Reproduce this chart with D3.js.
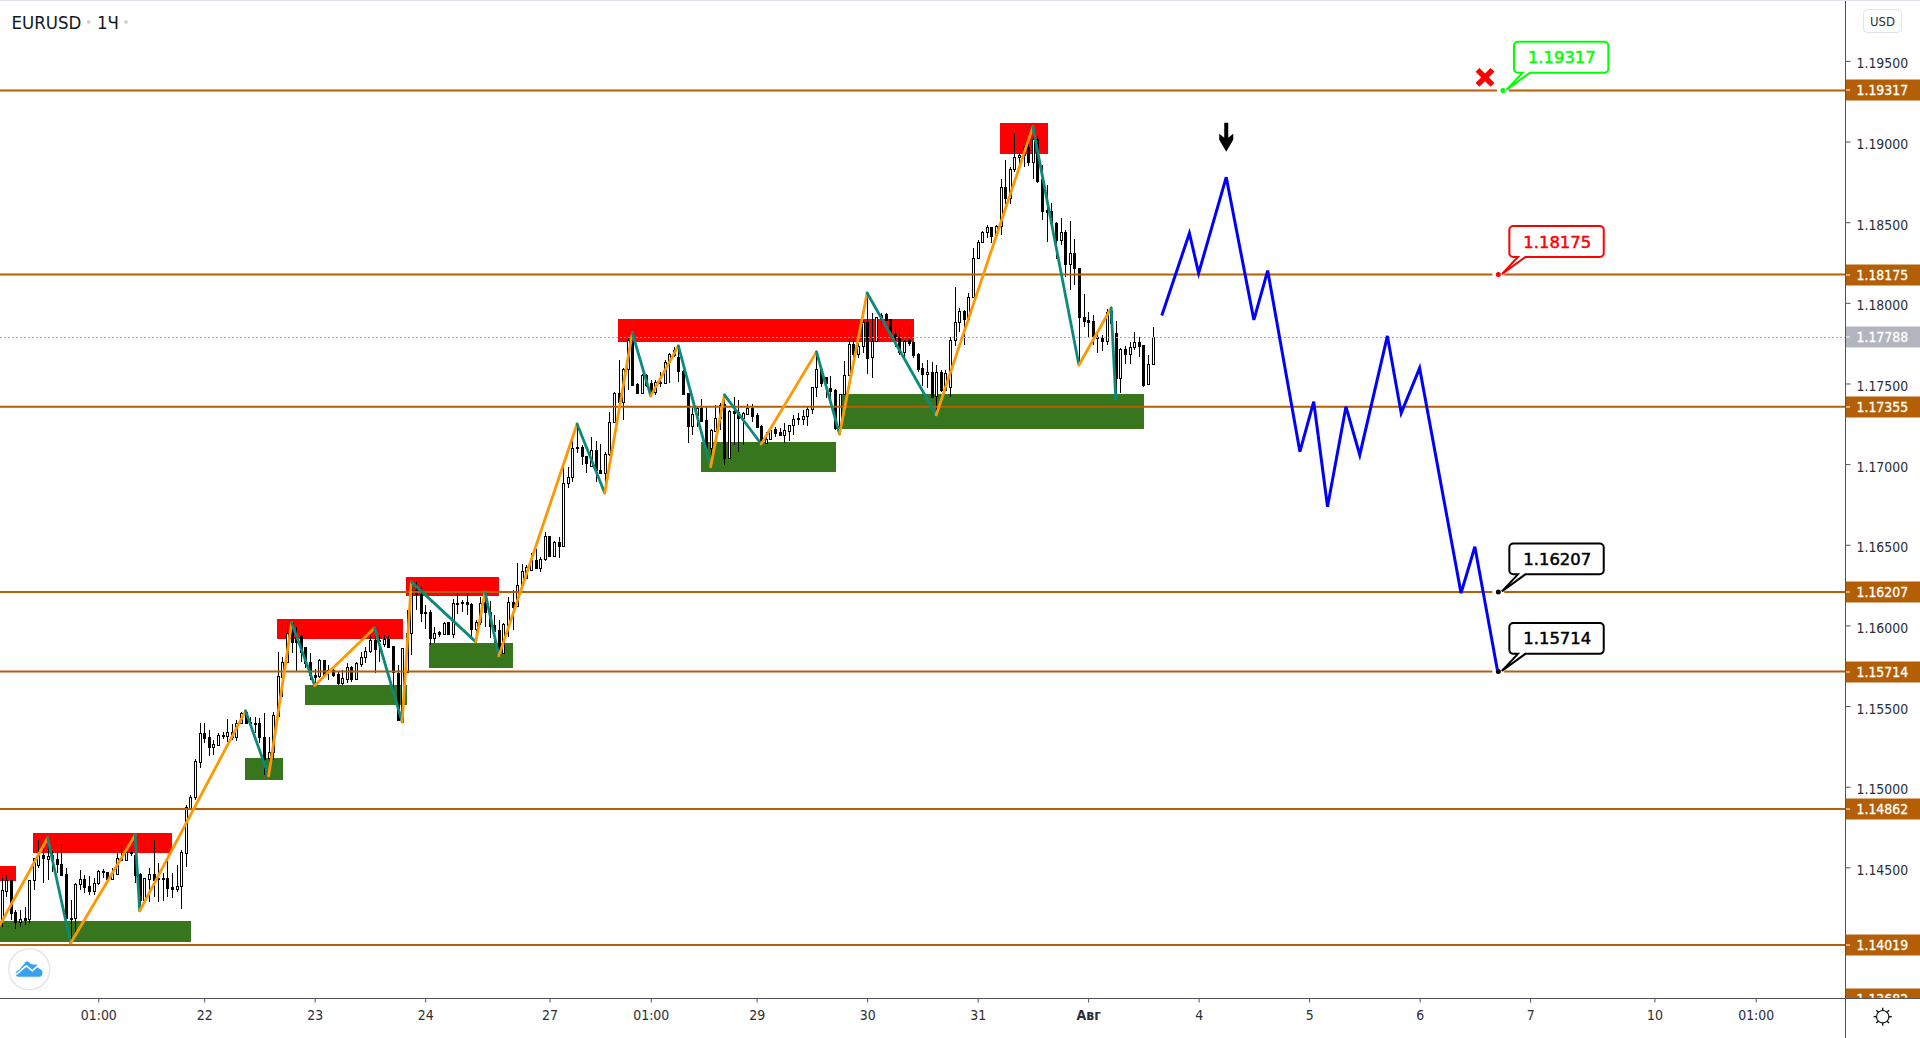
<!DOCTYPE html>
<html>
<head>
<meta charset="utf-8">
<title>EURUSD</title>
<script src="https://cdn.jsdelivr.net/npm/d3@7"></script>
<style>
  html, body { margin: 0; background: #fff; overflow: hidden; }
  text { font-family: "DejaVu Sans Condensed", "DejaVu Sans", sans-serif; font-stretch: condensed; }
</style>
</head>
<body>
<div id="chart"></div>
<script>
// candles, one entry per hourly bar
const barOpen = [
  1.14174,1.14354,1.14422,1.14224,1.14162,1.14186,1.14180,1.14422,1.14515,1.14577,
  1.14552,1.14577,1.14552,1.14521,1.14459,1.14186,1.14186,1.14397,1.14428,1.14385,
  1.14354,1.14403,1.14478,1.14472,1.14428,1.14459,1.14558,1.14546,1.14596,1.14577,
  1.14459,1.14298,1.14428,1.14459,1.14434,1.14434,1.14434,1.14379,1.14366,1.14385,
  1.14589,1.14868,1.14937,1.15154,1.15333,1.15308,1.15247,1.15259,1.15321,1.15315,
  1.15339,1.15308,1.15395,1.15464,1.15401,1.15395,1.15395,1.15308,1.15178,1.15216,
  1.15439,1.15681,1.15774,1.16015,1.15929,1.15935,1.15867,1.15774,1.15693,1.15687,
  1.15786,1.15724,1.15724,1.15699,1.15643,1.15668,1.15743,1.15668,1.15761,1.15805,
  1.15842,1.15910,1.15910,1.15885,1.15916,1.15873,1.15705,1.15401,1.15712,1.15953,
  1.16220,1.16195,1.16084,1.16084,1.15922,1.15960,1.15947,1.16021,1.15947,1.16139,
  1.16146,1.16146,1.16133,1.15978,1.16021,1.16146,1.16084,1.16003,1.15972,1.15829,
  1.16003,1.16146,1.16121,1.16251,1.16294,1.16344,1.16406,1.16356,1.16412,1.16555,
  1.16431,1.16518,1.16493,1.16883,1.16921,1.17106,1.17106,1.17051,1.16989,1.17088,
  1.16964,1.16945,1.17063,1.17262,1.17441,1.17386,1.17590,1.17813,1.17497,1.17441,
  1.17553,1.17503,1.17448,1.17510,1.17503,1.17634,1.17677,1.17665,1.17578,1.17441,
  1.17237,1.17305,1.17348,1.17274,1.17100,1.17206,1.17286,1.17373,1.17038,1.17330,
  1.17324,1.17286,1.17311,1.17348,1.17305,1.17237,1.17131,1.17156,1.17218,1.17200,
  1.17181,1.17206,1.17243,1.17286,1.17280,1.17299,1.17342,1.17479,1.17590,1.17541,
  1.17472,1.17460,1.17224,1.17435,1.17553,1.17745,1.17683,1.17733,1.17882,1.17665,
  1.17764,1.17925,1.17931,1.17900,1.17807,1.17789,1.17696,1.17770,1.17758,1.17683,
  1.17596,1.17559,1.17572,1.17423,1.17572,1.17460,1.17479,1.17770,1.17882,1.17950,
  1.17900,1.18037,1.18278,1.18378,1.18440,1.18471,1.18421,1.18477,1.18719,1.18650,
  1.18830,1.18905,1.18917,1.18967,1.18874,1.19016,1.18768,1.18576,1.18570,1.18495,
  1.18390,1.18440,1.18241,1.18309,1.18216,1.17913,1.17894,1.17888,1.17789,1.17782,
  1.17764,1.17950,1.17813,1.17534,1.17714,1.17683,1.17727,1.17758,1.17739,1.17497,
  1.17621
];
const barHigh = [
  1.14434,1.14453,1.14422,1.14236,1.14236,1.14255,1.14422,1.14558,1.14670,1.14651,
  1.14682,1.14602,1.14608,1.14645,1.14496,1.14298,1.14403,1.14484,1.14453,1.14447,
  1.14434,1.14484,1.14490,1.14472,1.14496,1.14589,1.14639,1.14627,1.14627,1.14689,
  1.14465,1.14434,1.14496,1.14670,1.14527,1.14465,1.14546,1.14465,1.14515,1.14608,
  1.14887,1.14949,1.15172,1.15395,1.15395,1.15352,1.15290,1.15333,1.15339,1.15420,
  1.15389,1.15414,1.15464,1.15470,1.15433,1.15433,1.15426,1.15457,1.15308,1.15464,
  1.15836,1.15805,1.16015,1.16015,1.15991,1.15941,1.15867,1.15829,1.15730,1.15792,
  1.15786,1.15755,1.15736,1.15718,1.15724,1.15767,1.15749,1.15774,1.15836,1.15867,
  1.15941,1.15984,1.15941,1.15941,1.15941,1.15873,1.15755,1.15860,1.16096,1.16270,
  1.16270,1.16245,1.16127,1.16096,1.15991,1.15966,1.16021,1.16021,1.16164,1.16208,
  1.16158,1.16208,1.16139,1.16034,1.16177,1.16208,1.16152,1.16065,1.16034,1.16015,
  1.16177,1.16220,1.16387,1.16381,1.16375,1.16449,1.16474,1.16425,1.16580,1.16555,
  1.16524,1.16549,1.16983,1.16983,1.17150,1.17255,1.17119,1.17051,1.17169,1.17144,
  1.17125,1.17076,1.17324,1.17448,1.17646,1.17596,1.17789,1.17813,1.17503,1.17559,
  1.17559,1.17522,1.17522,1.17572,1.17646,1.17689,1.17727,1.17727,1.17584,1.17441,
  1.17348,1.17355,1.17404,1.17355,1.17218,1.17367,1.17379,1.17429,1.17336,1.17417,
  1.17398,1.17324,1.17373,1.17373,1.17317,1.17243,1.17200,1.17224,1.17231,1.17224,
  1.17255,1.17243,1.17305,1.17317,1.17336,1.17361,1.17479,1.17696,1.17596,1.17541,
  1.17547,1.17466,1.17435,1.17640,1.17782,1.17782,1.17751,1.17894,1.18061,1.17937,
  1.17913,1.17937,1.17937,1.17900,1.17851,1.17844,1.17770,1.17851,1.17758,1.17689,
  1.17627,1.17646,1.17634,1.17615,1.17584,1.17584,1.17789,1.18099,1.17968,1.17956,
  1.18061,1.18340,1.18390,1.18446,1.18483,1.18471,1.18483,1.18768,1.18886,1.18843,
  1.19047,1.18929,1.18973,1.18991,1.19084,1.19035,1.18855,1.18731,1.18619,1.18502,
  1.18526,1.18452,1.18508,1.18396,1.18216,1.18055,1.17944,1.17925,1.17813,1.17801,
  1.17962,1.17962,1.17888,1.17720,1.17733,1.17758,1.17820,1.17789,1.17739,1.17677,
  1.17851
];
const barLow = [
  1.14131,1.14317,1.14174,1.14118,1.14131,1.14143,1.14155,1.14360,1.14496,1.14403,
  1.14422,1.14472,1.14465,1.14447,1.14180,1.14019,1.14093,1.14360,1.14341,1.14329,
  1.14329,1.14391,1.14434,1.14428,1.14428,1.14453,1.14546,1.14546,1.14571,1.14403,
  1.14236,1.14286,1.14286,1.14317,1.14286,1.14292,1.14317,1.14310,1.14348,1.14242,
  1.14502,1.14868,1.14918,1.15116,1.15271,1.15191,1.15197,1.15259,1.15296,1.15278,
  1.15290,1.15284,1.15395,1.15389,1.15383,1.15333,1.15271,1.15073,1.15067,1.15166,
  1.15439,1.15557,1.15774,1.15829,1.15718,1.15774,1.15736,1.15662,1.15619,1.15674,
  1.15687,1.15662,1.15681,1.15631,1.15631,1.15643,1.15650,1.15668,1.15743,1.15767,
  1.15829,1.15705,1.15774,1.15867,1.15860,1.15557,1.15414,1.15395,1.15712,1.15817,
  1.16096,1.16021,1.15978,1.15879,1.15891,1.15929,1.15941,1.15941,1.15922,1.16071,
  1.16084,1.16065,1.15922,1.15929,1.16003,1.15991,1.15922,1.15891,1.15817,1.15829,
  1.15929,1.15972,1.16115,1.16239,1.16288,1.16338,1.16356,1.16332,1.16400,1.16425,
  1.16425,1.16418,1.16493,1.16852,1.16889,1.17069,1.16995,1.16945,1.16983,1.16889,
  1.16945,1.16821,1.17051,1.17255,1.17355,1.17274,1.17460,1.17485,1.17435,1.17441,
  1.17479,1.17417,1.17429,1.17479,1.17497,1.17503,1.17665,1.17510,1.17429,1.17131,
  1.17181,1.17231,1.17262,1.17100,1.16983,1.17206,1.17212,1.16995,1.17038,1.17119,
  1.17076,1.17119,1.17305,1.17262,1.17231,1.17119,1.17125,1.17156,1.17169,1.17175,
  1.17131,1.17144,1.17181,1.17243,1.17243,1.17237,1.17311,1.17417,1.17479,1.17410,
  1.17398,1.17212,1.17181,1.17429,1.17553,1.17658,1.17658,1.17689,1.17559,1.17534,
  1.17758,1.17844,1.17888,1.17801,1.17727,1.17677,1.17665,1.17733,1.17658,1.17572,
  1.17485,1.17472,1.17417,1.17299,1.17448,1.17454,1.17417,1.17733,1.17820,1.17739,
  1.17894,1.18030,1.18272,1.18371,1.18402,1.18371,1.18421,1.18421,1.18613,1.18613,
  1.18812,1.18843,1.18843,1.18849,1.18768,1.18743,1.18514,1.18378,1.18483,1.18272,
  1.18359,1.18161,1.18080,1.18111,1.17615,1.17851,1.17782,1.17739,1.17689,1.17702,
  1.17739,1.17807,1.17404,1.17441,1.17621,1.17621,1.17708,1.17665,1.17479,1.17491,
  1.17615
];
const barClose = [
  1.14360,1.14422,1.14217,1.14162,1.14180,1.14174,1.14422,1.14558,1.14577,1.14558,
  1.14571,1.14546,1.14521,1.14453,1.14186,1.14180,1.14397,1.14428,1.14379,1.14354,
  1.14403,1.14478,1.14472,1.14428,1.14465,1.14558,1.14546,1.14596,1.14589,1.14453,
  1.14298,1.14434,1.14459,1.14422,1.14428,1.14428,1.14372,1.14366,1.14385,1.14596,
  1.14875,1.14937,1.15160,1.15333,1.15302,1.15247,1.15265,1.15321,1.15315,1.15339,
  1.15308,1.15395,1.15457,1.15395,1.15395,1.15389,1.15308,1.15172,1.15216,1.15445,
  1.15687,1.15774,1.15953,1.15898,1.15898,1.15836,1.15767,1.15693,1.15681,1.15786,
  1.15693,1.15718,1.15693,1.15643,1.15674,1.15743,1.15668,1.15767,1.15805,1.15842,
  1.15910,1.15854,1.15904,1.15916,1.15867,1.15712,1.15414,1.15860,1.15953,1.16264,
  1.16195,1.16077,1.16077,1.15922,1.15953,1.15947,1.16015,1.15947,1.16139,1.16133,
  1.16139,1.16133,1.15978,1.16021,1.16139,1.16084,1.15997,1.15966,1.15817,1.16009,
  1.16146,1.16115,1.16251,1.16338,1.16363,1.16406,1.16356,1.16412,1.16555,1.16431,
  1.16518,1.16493,1.16883,1.16921,1.17100,1.17100,1.17051,1.17007,1.17088,1.16964,
  1.16945,1.17063,1.17262,1.17441,1.17386,1.17590,1.17770,1.17491,1.17441,1.17553,
  1.17491,1.17441,1.17510,1.17503,1.17634,1.17683,1.17708,1.17578,1.17435,1.17237,
  1.17311,1.17348,1.17268,1.17100,1.17212,1.17286,1.17367,1.17038,1.17330,1.17317,
  1.17286,1.17317,1.17348,1.17299,1.17231,1.17125,1.17156,1.17212,1.17193,1.17181,
  1.17212,1.17243,1.17280,1.17280,1.17299,1.17342,1.17479,1.17590,1.17503,1.17503,
  1.17454,1.17224,1.17435,1.17553,1.17745,1.17683,1.17733,1.17882,1.17658,1.17764,
  1.17913,1.17900,1.17894,1.17807,1.17789,1.17696,1.17764,1.17751,1.17677,1.17590,
  1.17559,1.17572,1.17417,1.17572,1.17460,1.17565,1.17770,1.17882,1.17950,1.17900,
  1.18037,1.18278,1.18378,1.18440,1.18471,1.18415,1.18477,1.18719,1.18650,1.18830,
  1.18905,1.18917,1.18967,1.18874,1.19016,1.18756,1.18570,1.18564,1.18495,1.18390,
  1.18440,1.18241,1.18309,1.18216,1.17913,1.17888,1.17882,1.17789,1.17782,1.17764,
  1.17944,1.17875,1.17534,1.17714,1.17683,1.17727,1.17758,1.17733,1.17491,1.17621,
  1.17788
];

// zigzag pivots drawn over the candles
const zigzagBars = [-0.35, 10, 15, 29, 30, 53, 58, 63, 68, 81, 87, 89, 103, 105, 108, 125, 131, 137, 141, 147, 154, 157, 165, 177, 182, 188, 203, 224, 234, 241, 242];
const zigzagPrices = [1.14143, 1.14682, 1.14031, 1.14701, 1.14230, 1.15470, 1.15067, 1.16015, 1.15627, 1.15984, 1.15402, 1.16270, 1.15898, 1.16208, 1.15811, 1.17249, 1.16821, 1.17813, 1.17423, 1.17733, 1.16983, 1.17429, 1.17125, 1.17696, 1.17187, 1.18061, 1.17305, 1.19091, 1.17615, 1.17968, 1.17404];

// forecast path
const forecastBars = [252, 258, 260, 266, 272, 275, 282, 285, 288, 292, 295, 301, 304, 308, 317, 320, 325];
const forecastPrices = [1.17921, 1.18432, 1.18184, 1.18779, 1.17894, 1.18200, 1.17077, 1.17387, 1.16736, 1.17356, 1.17057, 1.17795, 1.17316, 1.17595, 1.16200, 1.16488, 1.15707];

// supply and demand zones: start bar, end bar, top, bottom
const supplyZones = [
  [-1, 3.13, 1.14509, 1.14416],
  [6.82, 37, 1.14713, 1.14589],
  [59.8, 87.2, 1.16040, 1.15916],
  [87.83, 108, 1.16301, 1.16183],
  [133.9, 198.2, 1.17900, 1.17758],
  [216.9, 227.3, 1.19115, 1.18923]
];
const demandZones = [
  [-1, 41.14, 1.14168, 1.14038],
  [52.87, 61.1, 1.15178, 1.15042],
  [65.9, 88.05, 1.15631, 1.15507],
  [92.83, 111.1, 1.15892, 1.15736],
  [151.9, 181.2, 1.17138, 1.16952],
  [182.3, 248.1, 1.17435, 1.17218]
];

const levels = [1.19317, 1.18175, 1.17355, 1.16207, 1.15714, 1.14862, 1.14019, 1.13682];
const lastPrice = 1.17788;
const priceTicks = [1.195, 1.19, 1.185, 1.18, 1.175, 1.17, 1.165, 1.16, 1.155, 1.15, 1.145];

const timeTickBars = [21, 44, 68, 92, 119, 141, 164, 188, 212, 236, 260, 284, 308, 332, 359, 381];
const timeTickLabels = ["01:00", "22", "23", "24", "27", "01:00", "29", "30", "31", "Авг", "4", "5", "6", "7", "10", "01:00"];

const calloutBars = [326.1, 325.1, 325.1, 325.1];
const calloutPrices = [1.19317, 1.18175, 1.16207, 1.15714];
const calloutColors = ["#00ff00", "#ff0000", "#000000", "#000000"];

const page = { width: 1920, height: 1038 };
const pane = { top: 2, right: 1845, bottom: 998 };
const axisFontSize = 13.9;

const xScale = d3.scaleLinear().domain([0, 381]).range([1.6, 1755.7]);
const yScale = d3.scaleLinear().domain([1.13690, 1.19859]).range([998, 3]);

const svg = d3.select("#chart")
  .append("svg")
  .attr("width", page.width)
  .attr("height", page.height)
  .style("display", "block");

svg.append("defs").append("clipPath")
  .attr("id", "pane-clip")
  .append("rect")
  .attr("width", pane.right)
  .attr("y", pane.top)
  .attr("height", pane.bottom - pane.top);

svg.select("defs").append("clipPath")
  .attr("id", "scale-clip")
  .append("rect")
  .attr("x", pane.right)
  .attr("y", pane.top)
  .attr("width", page.width - pane.right)
  .attr("height", pane.bottom - pane.top);

svg.append("rect")
  .attr("width", page.width)
  .attr("height", 1)
  .attr("fill", "#e0e3eb");

const plot = svg.append("g").attr("clip-path", "url(#pane-clip)");

// zones sit under everything
function drawZones(zones, color) {
  plot.append("g")
    .attr("shape-rendering", "crispEdges")
    .selectAll("rect")
    .data(zones)
    .join("rect")
    .attr("x", d => xScale(d[0]))
    .attr("width", d => xScale(d[1]) - xScale(d[0]))
    .attr("y", d => yScale(d[2]))
    .attr("height", d => yScale(d[3]) - yScale(d[2]))
    .attr("fill", color);
}
drawZones(supplyZones, "#ff0000");
drawZones(demandZones, "#38761d");

// candles
const candles = d3.range(barOpen.length);
const candleLayer = plot.append("g").attr("shape-rendering", "crispEdges");

candleLayer.selectAll("line")
  .data(candles)
  .join("line")
  .attr("x1", i => Math.round(xScale(i)) + 0.5)
  .attr("x2", i => Math.round(xScale(i)) + 0.5)
  .attr("y1", i => Math.round(yScale(barHigh[i])))
  .attr("y2", i => Math.round(yScale(barLow[i])))
  .attr("stroke", "#000");

candleLayer.selectAll("rect")
  .data(candles)
  .join("rect")
  .attr("x", i => Math.round(xScale(i)) - 0.5)
  .attr("width", 2)
  .attr("y", i => Math.round(yScale(Math.max(barOpen[i], barClose[i]))) + 0.5)
  .attr("height", i => Math.max(1, Math.round(yScale(Math.min(barOpen[i], barClose[i]))) - Math.round(yScale(Math.max(barOpen[i], barClose[i])))))
  .attr("fill", i => barClose[i] >= barOpen[i] ? "#fff" : "#000")
  .attr("stroke", "#000");

// horizontal levels
plot.append("g")
  .selectAll("line")
  .data(levels)
  .join("line")
  .attr("x1", 0)
  .attr("x2", pane.right)
  .attr("y1", d => yScale(d))
  .attr("y2", d => yScale(d))
  .attr("stroke", "#b45f06")
  .attr("stroke-width", 2);

plot.append("line")
  .attr("x1", 0)
  .attr("x2", pane.right)
  .attr("y1", Math.round(yScale(lastPrice)) + 0.5)
  .attr("y2", Math.round(yScale(lastPrice)) + 0.5)
  .attr("stroke", "#a9abb2")
  .attr("stroke-dasharray", "2 2");

// zigzag legs, orange going up and teal going down
const zigzagLegs = d3.range(zigzagBars.length - 1);
plot.append("g")
  .selectAll("line")
  .data(zigzagLegs)
  .join("line")
  .attr("x1", i => xScale(zigzagBars[i]))
  .attr("y1", i => yScale(zigzagPrices[i]))
  .attr("x2", i => xScale(zigzagBars[i + 1]))
  .attr("y2", i => yScale(zigzagPrices[i + 1]))
  .attr("stroke", i => zigzagPrices[i + 1] > zigzagPrices[i] ? "#ff9800" : "#0b8a7c")
  .attr("stroke-width", 2.8)
  .attr("stroke-linecap", "round");

// down arrow above the forecast peak
plot.append("path")
  .attr("transform", `translate(${xScale(266)},${yScale(1.18779) - 25.5})`)
  .attr("d", "M-2,-29 L2,-29 L2,-14 L7,-18 L7,-12 L0,0 L-7,-12 L-7,-18 L-2,-14 Z")
  .attr("fill", "#000");

// red cross next to the invalidation level
plot.append("g")
  .attr("transform", `translate(${xScale(322.2)},${yScale(1.19317) - 13})`)
  .selectAll("line")
  .data([[-7.5, -7.5, 7.5, 7.5], [-7.5, 7.5, 7.5, -7.5]])
  .join("line")
  .attr("x1", d => d[0])
  .attr("y1", d => d[1])
  .attr("x2", d => d[2])
  .attr("y2", d => d[3])
  .attr("stroke", "#ff0000")
  .attr("stroke-width", 5.5);

// callouts
const callout = plot.append("g")
  .selectAll("g")
  .data(d3.range(calloutBars.length))
  .join("g")
  .attr("transform", i => `translate(${xScale(calloutBars[i])},${yScale(calloutPrices[i])})`);

callout.append("circle")
  .attr("r", 6)
  .attr("fill", "#fff");

callout.append("path")
  .attr("d", "M15,-48.6 H101.4 a4,4 0 0 1 4,4 V-21.7 a4,4 0 0 1 -4,4 H27 L3.5,-0.5 L19.6,-17.7 H15 a4,4 0 0 1 -4,-4 V-44.6 a4,4 0 0 1 4,-4 Z")
  .attr("fill", "#fff")
  .attr("stroke", i => calloutColors[i])
  .attr("stroke-width", 2);

// forecast runs down to the last callout, so it goes after the callout halos
plot.append("path")
  .datum(d3.range(forecastBars.length))
  .attr("d", d3.line().x(i => xScale(forecastBars[i])).y(i => yScale(forecastPrices[i])))
  .attr("fill", "none")
  .attr("stroke", "#0000ff")
  .attr("stroke-width", 3)
  .attr("stroke-linejoin", "miter");

const calloutTop = plot.append("g")
  .selectAll("g")
  .data(d3.range(calloutBars.length))
  .join("g")
  .attr("transform", i => `translate(${xScale(calloutBars[i])},${yScale(calloutPrices[i])})`);

calloutTop.append("circle")
  .attr("r", 2.5)
  .attr("fill", i => calloutColors[i]);

calloutTop.append("text")
  .attr("x", 58.9)
  .attr("y", -33)
  .attr("dy", "0.36em")
  .attr("text-anchor", "middle")
  .style("font-family", '"DejaVu Sans", sans-serif')
  .style("font-stretch", "normal")
  .attr("font-size", 16.4)
  .attr("fill", i => calloutColors[i])
  .attr("stroke", i => calloutColors[i])
  .attr("stroke-width", 0.5)
  .text(i => calloutPrices[i].toFixed(5));

// logo
const logo = svg.append("g").attr("transform", "translate(29.3,969.3)");
logo.append("circle")
  .attr("r", 20.5)
  .attr("fill", "#fff")
  .attr("stroke", "#e6e6e6")
  .attr("stroke-width", 1.5);
logo.append("path")
  .attr("d", "M-11,7.5 C-14.5,7.5 -14.5,1.5 -10,0.5 L-3.5,-7.5 C-1.5,-8.5 0,-7.5 1,-5.5 L5,-4.5 C8,-6 9,-3 10,-2 C14,-1 14.5,7.5 10,7.5 Z")
  .attr("fill", "#39a2ee");
logo.append("path")
  .attr("d", "M-13,5 L-3,-3.5 L3,1.5 L8,-3 L14,1")
  .attr("fill", "none")
  .attr("stroke", "#fff")
  .attr("stroke-width", 1.6);

// title
svg.append("text")
  .attr("x", 11.5)
  .attr("y", 29)
  .attr("font-size", 18.5)
  .attr("fill", "#131722")
  .text("EURUSD");
svg.append("text")
  .attr("x", 97)
  .attr("y", 29)
  .attr("font-size", 18.5)
  .attr("fill", "#131722")
  .text("1Ч");
svg.selectAll(".title-dot")
  .data([88.7, 126])
  .join("circle")
  .attr("class", "title-dot")
  .attr("cx", d => d)
  .attr("cy", 22)
  .attr("r", 1.8)
  .attr("fill", "#c8cad4");

// price scale
const yAxis = d3.axisRight(yScale)
  .tickValues(priceTicks)
  .tickFormat(d3.format(".5f"))
  .tickSize(5)
  .tickPadding(6);

const yAxisGroup = svg.append("g")
  .attr("transform", `translate(${pane.right + 0.5},0)`)
  .call(yAxis);
yAxisGroup.select(".domain").remove();
yAxisGroup.selectAll("line").attr("stroke", "#50535e");
yAxisGroup.selectAll("text")
  .attr("dy", "0.5em")
  .attr("font-size", axisFontSize)
  .attr("font-family", null)
  .attr("fill", "#2a2e39");

const scaleLabels = svg.append("g").attr("clip-path", "url(#scale-clip)");

const levelLabel = scaleLabels.selectAll("g")
  .data(levels.concat([lastPrice]))
  .join("g")
  .attr("transform", d => `translate(${pane.right},${Math.round(yScale(d))})`);

levelLabel.append("rect")
  .attr("y", -10.5)
  .attr("width", page.width - pane.right)
  .attr("height", 21)
  .attr("fill", d => d === lastPrice ? "#b2b5be" : "#b45f06");

levelLabel.append("line")
  .attr("x2", 5)
  .attr("stroke", "#fff");

levelLabel.append("text")
  .attr("x", 11.5)
  .attr("dy", "0.36em")
  .attr("font-size", axisFontSize)
  .attr("fill", "#fff")
  .attr("stroke", "#fff")
  .attr("stroke-width", 0.3)
  .text(d => d.toFixed(5));

svg.append("line")
  .attr("x1", pane.right + 0.5)
  .attr("x2", pane.right + 0.5)
  .attr("y1", 1)
  .attr("y2", page.height)
  .attr("stroke", "#50535e");

// USD button
svg.append("rect")
  .attr("x", 1863.5)
  .attr("y", 9.5)
  .attr("width", 38)
  .attr("height", 23)
  .attr("rx", 4)
  .attr("fill", "#fff")
  .attr("stroke", "#e0e3eb");
svg.append("text")
  .attr("x", 1882.5)
  .attr("y", 21)
  .attr("dy", "0.36em")
  .attr("text-anchor", "middle")
  .attr("font-size", 13)
  .attr("fill", "#2a2e39")
  .text("USD");

// time scale
const xAxis = d3.axisBottom(xScale)
  .tickValues(timeTickBars)
  .tickFormat((d, i) => timeTickLabels[i])
  .tickSize(4)
  .tickPadding(8);

const xAxisGroup = svg.append("g")
  .attr("transform", `translate(0,${pane.bottom + 0.5})`)
  .call(xAxis);
xAxisGroup.select(".domain").remove();
xAxisGroup.selectAll("line").attr("stroke", "#50535e");
xAxisGroup.selectAll("text")
  .attr("font-size", axisFontSize)
  .attr("font-family", null)
  .attr("fill", "#2a2e39");
xAxisGroup.selectAll("text")
  .filter((d, i) => timeTickLabels[i] === "Авг")
  .attr("font-weight", "bold");

svg.append("line")
  .attr("x1", 0)
  .attr("x2", page.width)
  .attr("y1", pane.bottom + 0.5)
  .attr("y2", pane.bottom + 0.5)
  .attr("stroke", "#50535e");

// settings gear
const gear = svg.append("g").attr("transform", "translate(1882.7,1016.7)");
gear.append("circle")
  .attr("r", 6.2)
  .attr("fill", "none")
  .attr("stroke", "#131722")
  .attr("stroke-width", 1.2);
gear.selectAll("line")
  .data(d3.range(8))
  .join("line")
  .attr("y1", 6)
  .attr("y2", 9)
  .attr("transform", d => `rotate(${d * 45})`)
  .attr("stroke", "#131722")
  .attr("stroke-width", 1.4);
</script>
</body>
</html>
